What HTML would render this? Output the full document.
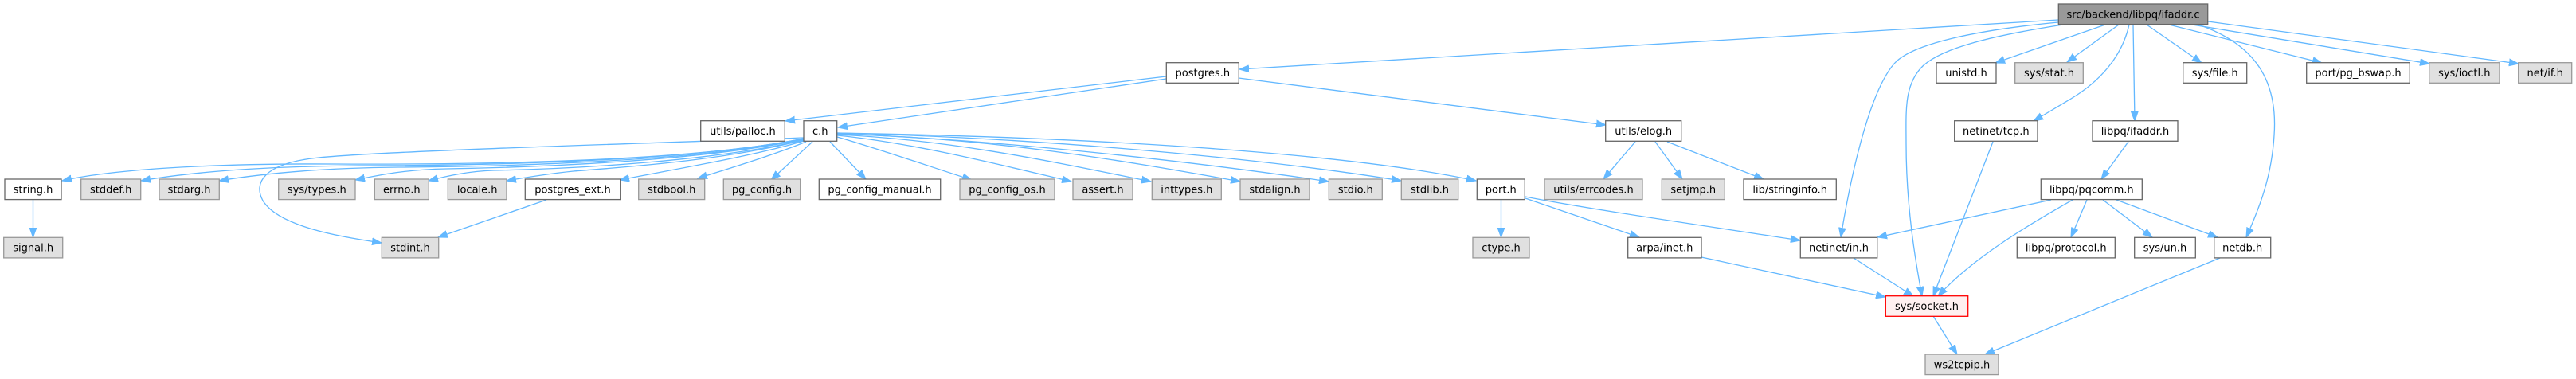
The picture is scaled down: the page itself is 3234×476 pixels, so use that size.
<!DOCTYPE html>
<html>
<head>
<meta charset="utf-8">
<style>
html,body{margin:0;padding:0;background:#fff;}
svg{display:block;}
text{font-family:"DejaVu Sans","Liberation Sans",sans-serif;font-size:13px;fill:#000;text-anchor:middle;}
.w{fill:#fff;stroke:#666;stroke-width:1.3;}
.g{fill:#e0e0e0;stroke:#999;stroke-width:1.3;}
.t{fill:#999;stroke:#666;stroke-width:1.3;}
.r{fill:#fff0f0;stroke:#f00;stroke-width:1.3;}
.e{fill:none;stroke:#63b8ff;stroke-width:1.3;marker-end:url(#a);}
</style>
</head>
<body>
<svg width="3234" height="476" viewBox="0 0 3234 476" xmlns="http://www.w3.org/2000/svg">
<defs>
<marker id="a" markerWidth="13" markerHeight="10" refX="12" refY="5" orient="auto" markerUnits="userSpaceOnUse">
<path d="M0,0.6 L12,5 L0,9.4 z" fill="#63b8ff" stroke="#63b8ff" stroke-width="1"/>
</marker>
</defs>

<!-- edges -->
<g>
<path class="e" d="M2584,25 L1556,87"/>
<path class="e" d="M2643,31 L2505,79"/>
<path class="e" d="M2660,31 L2595,78"/>
<path class="e" d="M2673,31 C2664,72 2635,103 2600,124 C2585,133 2570,142 2553,152"/>
<path class="e" d="M2678,31 L2680,152"/>
<path class="e" d="M2695,31 L2764,79"/>
<path class="e" d="M2723,31 L2915,79"/>
<path class="e" d="M2752,31 L3050,80"/>
<path class="e" d="M2772,27 L3162,80"/>
<path class="e" d="M2760,31 C2830,55 2860,100 2855,170 C2852,220 2838,258 2820,298"/>
<path class="e" d="M2584,28 C2480,38 2400,55 2378,80 C2345,118 2322,230 2311,298"/>
<path class="e" d="M2590,31 C2500,45 2440,60 2415,82 C2390,105 2393,140 2393,180 C2393,260 2405,330 2413,372"/>

<path class="e" d="M1464,99 L1052,160"/>
<path class="e" d="M1464,96 L986,152"/>
<path class="e" d="M1555,98 L2016,157"/>

<path class="e" d="M1009,174 C880,200 650,207 420,206 C260,205 140,213 78,227"/>
<path class="e" d="M1009,174 C880,200 650,208 450,208 C330,209 240,216 177,227"/>
<path class="e" d="M1009,175 C880,201 660,209 500,210 C400,211 330,218 275,227"/>
<path class="e" d="M1009,175 C880,202 680,210 560,212 C510,213 480,219 446,226"/>
<path class="e" d="M1009,176 C890,203 720,212 620,214 C590,215 565,220 538,227"/>
<path class="e" d="M1009,176 C900,203 780,210 720,215 C690,218 665,222 636,227"/>
<path class="e" d="M1009,177 C950,195 850,212 778,226"/>
<path class="e" d="M1012,178 C970,195 920,210 876,224"/>
<path class="e" d="M1020,178 L968,226"/>
<path class="e" d="M1042,178 L1087,225"/>
<path class="e" d="M1051,172 C1100,186 1170,210 1220,226"/>
<path class="e" d="M1051,170 C1150,180 1260,208 1345,228"/>
<path class="e" d="M1051,169 C1200,176 1330,205 1445,228"/>
<path class="e" d="M1051,168 C1250,174 1400,200 1557,228"/>
<path class="e" d="M1051,168 C1250,175 1500,203 1668,228"/>
<path class="e" d="M1051,167 C1300,173 1580,198 1759,227"/>
<path class="e" d="M1051,167 C1350,172 1680,190 1853,227"/>
<path class="e" d="M1009,173 C750,182 480,190 400,198 C330,205 318,230 330,252 C350,285 430,298 479,305"/>

<path class="e" d="M686,251 L550,298"/>
<path class="e" d="M41.5,251 L41.5,298"/>
<path class="e" d="M1884.5,251 L1884.5,298"/>
<path class="e" d="M1915,249 L2058,298"/>
<path class="e" d="M1915,247 C1990,262 2150,285 2260,302"/>
<path class="e" d="M2053,178 L2013,225"/>
<path class="e" d="M2078,178 L2112,225"/>
<path class="e" d="M2093,178 L2214,225"/>
<path class="e" d="M2502,178 L2427,372"/>
<path class="e" d="M2672,178 L2638,225"/>
<path class="e" d="M2575,251 L2357,298"/>
<path class="e" d="M2602,251 C2560,275 2480,320 2433,372"/>
<path class="e" d="M2620,251 L2600,298"/>
<path class="e" d="M2640,251 L2702,298"/>
<path class="e" d="M2657,251 L2784,298"/>
<path class="e" d="M2136,323 L2367,373"/>
<path class="e" d="M2327,324 L2402,372"/>
<path class="e" d="M2427,397 L2457,445"/>
<path class="e" d="M2787,324 L2492,445"/>
</g>

<!-- nodes -->
<g>
<!-- row 1 -->
<rect class="t" x="2584.3" y="5" width="187.4" height="25.6"/><text x="2678" y="22.3">src/backend/libpq/ifaddr.c</text>

<!-- row 2 -->
<rect class="w" x="1464.3" y="78.7" width="91" height="25.6"/><text x="1509.8" y="96">postgres.h</text>
<rect class="w" x="2431" y="78.7" width="75" height="25.6"/><text x="2468.5" y="96">unistd.h</text>
<rect class="g" x="2529.7" y="78.7" width="85.6" height="25.6"/><text x="2572.5" y="96">sys/stat.h</text>
<rect class="w" x="2740.7" y="78.7" width="80" height="25.6"/><text x="2780.7" y="96">sys/file.h</text>
<rect class="w" x="2895.7" y="78.7" width="129.6" height="25.6"/><text x="2960.5" y="96">port/pg_bswap.h</text>
<rect class="g" x="3049.7" y="78.7" width="88.3" height="25.6"/><text x="3093.8" y="96">sys/ioctl.h</text>
<rect class="g" x="3161.7" y="78.7" width="67" height="25.6"/><text x="3195.2" y="96">net/if.h</text>

<!-- row 3 -->
<rect class="w" x="879.7" y="151.7" width="105.6" height="25.6"/><text x="932.5" y="169">utils/palloc.h</text>
<rect class="w" x="1009" y="151.7" width="41.7" height="25.6"/><text x="1029.8" y="169">c.h</text>
<rect class="w" x="2015.7" y="151.7" width="95" height="25.6"/><text x="2063.2" y="169">utils/elog.h</text>
<rect class="w" x="2453.7" y="151.7" width="104.3" height="25.6"/><text x="2505.8" y="169">netinet/tcp.h</text>
<rect class="w" x="2627" y="151.7" width="107" height="25.6"/><text x="2680.5" y="169">libpq/ifaddr.h</text>

<!-- row 4 -->
<rect class="w" x="6" y="225" width="71" height="25.6"/><text x="41.5" y="242.3">string.h</text>
<rect class="g" x="101.7" y="225" width="75" height="25.6"/><text x="139.2" y="242.3">stddef.h</text>
<rect class="g" x="200" y="225" width="75.3" height="25.6"/><text x="237.6" y="242.3">stdarg.h</text>
<rect class="g" x="349.7" y="225" width="96.3" height="25.6"/><text x="397.8" y="242.3">sys/types.h</text>
<rect class="g" x="470.3" y="225" width="68" height="25.6"/><text x="504.3" y="242.3">errno.h</text>
<rect class="g" x="562.3" y="225" width="73.7" height="25.6"/><text x="599.2" y="242.3">locale.h</text>
<rect class="w" x="659.3" y="225" width="119.4" height="25.6"/><text x="719" y="242.3">postgres_ext.h</text>
<rect class="g" x="801.7" y="225" width="83" height="25.6"/><text x="843.2" y="242.3">stdbool.h</text>
<rect class="g" x="908.3" y="225" width="96.4" height="25.6"/><text x="956.5" y="242.3">pg_config.h</text>
<rect class="w" x="1028.3" y="225" width="152.4" height="25.6"/><text x="1104.5" y="242.3">pg_config_manual.h</text>
<rect class="g" x="1205" y="225" width="119" height="25.6"/><text x="1264.5" y="242.3">pg_config_os.h</text>
<rect class="g" x="1347" y="225" width="75" height="25.6"/><text x="1384.5" y="242.3">assert.h</text>
<rect class="g" x="1446.3" y="225" width="87" height="25.6"/><text x="1489.8" y="242.3">inttypes.h</text>
<rect class="g" x="1557" y="225" width="87" height="25.6"/><text x="1600.5" y="242.3">stdalign.h</text>
<rect class="g" x="1668.3" y="225" width="67" height="25.6"/><text x="1701.8" y="242.3">stdio.h</text>
<rect class="g" x="1759.3" y="225" width="71.4" height="25.6"/><text x="1795" y="242.3">stdlib.h</text>
<rect class="w" x="1854.3" y="225" width="60" height="25.6"/><text x="1884.3" y="242.3">port.h</text>
<rect class="g" x="1939" y="225" width="123" height="25.6"/><text x="2000.5" y="242.3">utils/errcodes.h</text>
<rect class="g" x="2086.3" y="225" width="79" height="25.6"/><text x="2125.8" y="242.3">setjmp.h</text>
<rect class="w" x="2189" y="225" width="116.3" height="25.6"/><text x="2247.2" y="242.3">lib/stringinfo.h</text>
<rect class="w" x="2562.3" y="225" width="127" height="25.6"/><text x="2625.8" y="242.3">libpq/pqcomm.h</text>

<!-- row 5 -->
<rect class="g" x="4.7" y="298.3" width="74" height="25.6"/><text x="41.7" y="315.6">signal.h</text>
<rect class="g" x="479.3" y="298.3" width="71.4" height="25.6"/><text x="515" y="315.6">stdint.h</text>
<rect class="g" x="1849" y="298.3" width="71" height="25.6"/><text x="1884.5" y="315.6">ctype.h</text>
<rect class="w" x="2043.7" y="298.3" width="92.3" height="25.6"/><text x="2089.8" y="315.6">arpa/inet.h</text>
<rect class="w" x="2260.3" y="298.3" width="96.4" height="25.6"/><text x="2308.5" y="315.6">netinet/in.h</text>
<rect class="w" x="2532.3" y="298.3" width="123" height="25.6"/><text x="2593.8" y="315.6">libpq/protocol.h</text>
<rect class="w" x="2679.7" y="298.3" width="76.6" height="25.6"/><text x="2718" y="315.6">sys/un.h</text>
<rect class="w" x="2779.7" y="298.3" width="71" height="25.6"/><text x="2815.2" y="315.6">netdb.h</text>

<!-- row 6 -->
<rect class="r" x="2367.3" y="371.7" width="103.4" height="25.6"/><text x="2419" y="389">sys/socket.h</text>

<!-- row 7 -->
<rect class="g" x="2417" y="445" width="92" height="25.6"/><text x="2463" y="462.3">ws2tcpip.h</text>
</g>
</svg>
</body>
</html>
